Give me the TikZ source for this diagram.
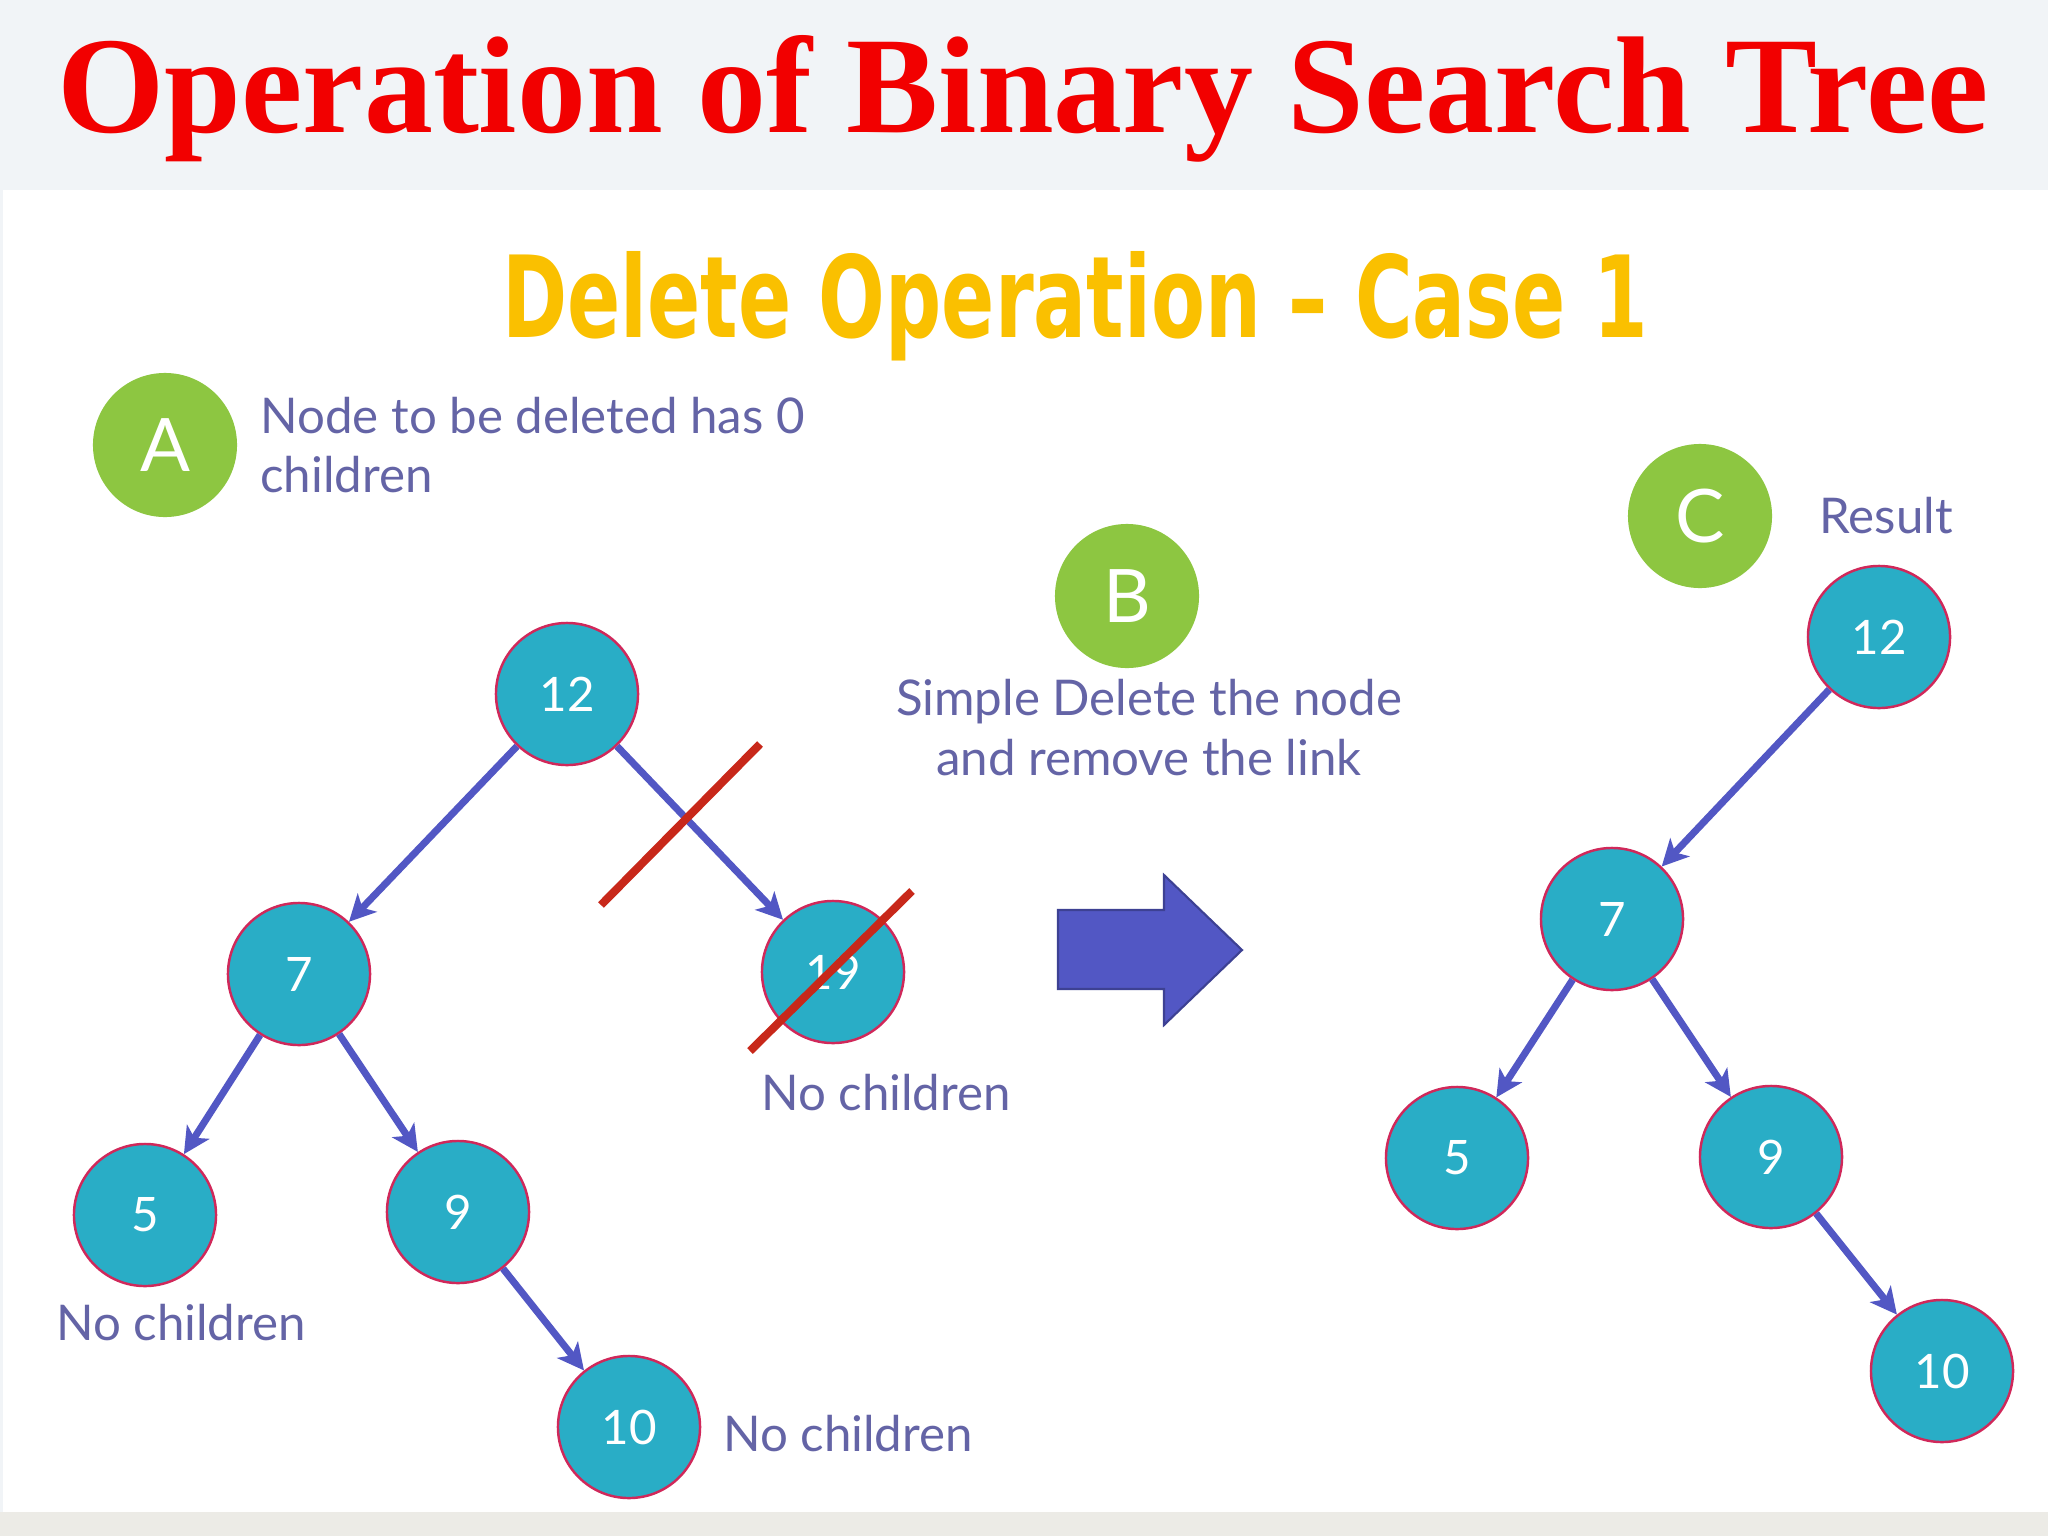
\documentclass[tikz,border=0pt]{standalone}
\usepackage{fontspec}
\setmainfont{Liberation Serif}
\newfontfamily\bodyfont{Lato}
\newfontfamily\headfont{DejaVu Sans}
\usetikzlibrary{positioning}
\usetikzlibrary{arrows.meta}

\definecolor{titlered}{HTML}{F20000}
\definecolor{headgold}{HTML}{FAC000}
\definecolor{notegray}{HTML}{6464A6}
\definecolor{nodeteal}{HTML}{29ADC6}
\definecolor{noderim}{HTML}{D0285A}
\definecolor{markgreen}{HTML}{8DC641}
\definecolor{linkblue}{HTML}{5257C4}
\definecolor{strikered}{HTML}{C8281A}
\definecolor{bandgray}{HTML}{F1F4F7}
\definecolor{footgray}{HTML}{ECEBE6}

\tikzset{
    treenode/.style={circle, fill=nodeteal, draw=noderim, line width=0.7pt, minimum size=1.42cm, inner sep=0pt, text=white, font=\bodyfont\fontsize{13.5}{13.5}\selectfont},
    stepmark/.style={circle, fill=markgreen, minimum size=1.44cm, inner sep=0pt, text=white, font=\bodyfont\fontsize{21}{21}\selectfont},
    link/.style={draw=linkblue, line width=2pt, -{Stealth[length=7.5pt, width=7.5pt, inset=2pt]}},
    note/.style={text=notegray, inner sep=0pt, font=\bodyfont\fontsize{14}{17}\selectfont},
    strike/.style={draw=strikered, line width=2.3pt},
}

\begin{document}
\begin{tikzpicture}[x=0.01cm, y=-0.01cm]
    \useasboundingbox (0,0) rectangle (2048,1536);
    % background
    \fill [bandgray] (0,0) rectangle (2048,1536);
    \fill [white] (3,190) rectangle (2048,1512);
    \fill [footgray] (0,1512) rectangle (2048,1536);

    % headings
    \node [anchor=base, inner sep=0pt, text=titlered] (title) at (1023,132) {\resizebox{19.29cm}{0.97cm}{\bfseries Operation of Binary Search Tree}};
    \node [anchor=base, inner sep=0pt, text=headgold] (subtitle) at (1075,337) {\resizebox{11.45cm}{0.86cm}{\headfont\bfseries Delete Operation – Case 1}};

    % steps
    \node [stepmark] (markA) at (165,445) {A};
    \node [stepmark] (markB) at (1127,596) {B};
    \node [stepmark] (markC) at (1700,516) {C};
    \node [note, align=left, right=0.22cm of markA] (notea) {Node to be deleted has 0\\children};
    \node [note, align=center, below=0.1cm of markB, xshift=0.22cm] (noteb) {Simple Delete the node\\and remove the link};
    \node [note, right=0.46cm of markC] (notec) {Result};

    % tree before
    \node [treenode] (ltwelve) at (567,694) {12};
    \node [treenode] (lseven) at (299,974) {7};
    \node [treenode] (lnineteen) at (833,972) {19};
    \node [treenode] (lfive) at (145,1215) {5};
    \node [treenode] (lnine) at (458,1212) {9};
    \node [treenode] (lten) at (629,1427) {10};

    \draw [link] (ltwelve) -- (lseven);
    \draw [link] (ltwelve) -- (lnineteen);
    \draw [link] (lseven) -- (lfive);
    \draw [link] (lseven) -- (lnine);
    \draw [link] (lnine) -- (lten);

    \node [note] (freenineteen) at (886,1093) {No children};
    \node [note] (freefive) at (181,1323) {No children};
    \node [note] (freeten) at (848,1434) {No children};

    % removed link and node
    \draw [strike] (601,905) -- (760,744);
    \draw [strike] (750,1051) -- (912,891);

    % big arrow
    \draw [fill=linkblue, draw=linkblue!75!black, line width=0.6pt] (1058,910) -- (1164,910) -- (1164,875) -- (1242,950) -- (1164,1025) -- (1164,989) -- (1058,989) -- cycle;

    % tree after
    \node [treenode] (rtwelve) at (1879,637) {12};
    \node [treenode] (rseven) at (1612,919) {7};
    \node [treenode] (rfive) at (1457,1158) {5};
    \node [treenode] (rnine) at (1771,1157) {9};
    \node [treenode] (rten) at (1942,1371) {10};

    \draw [link] (rtwelve) -- (rseven);
    \draw [link] (rseven) -- (rfive);
    \draw [link] (rseven) -- (rnine);
    \draw [link] (rnine) -- (rten);
\end{tikzpicture}
\end{document}
